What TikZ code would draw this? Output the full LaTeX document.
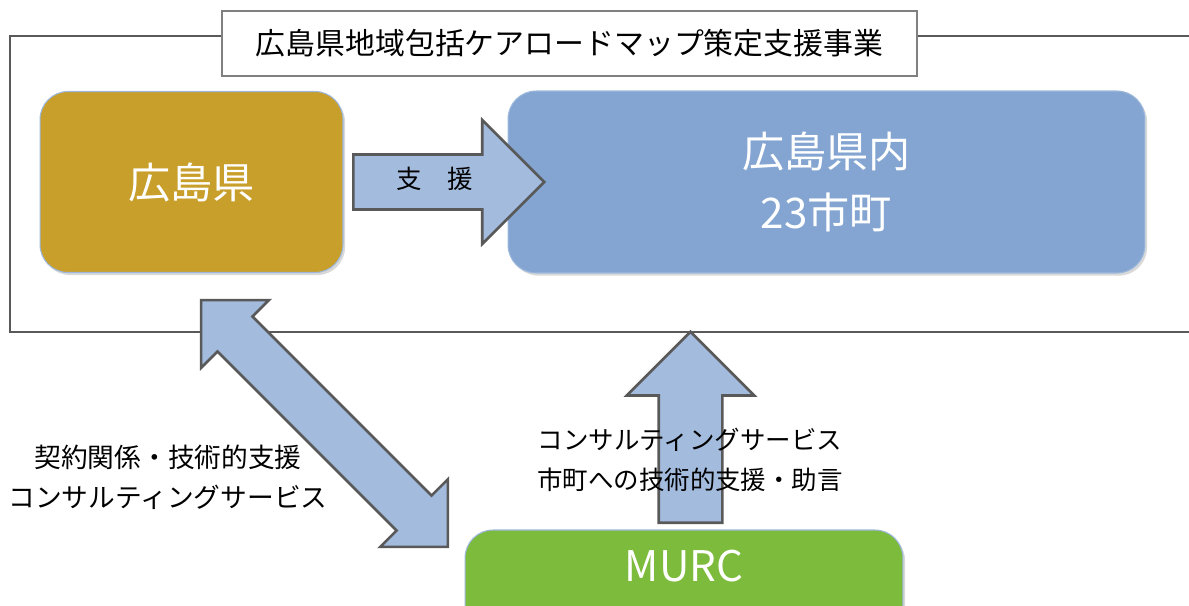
\documentclass[tikz,border=0pt]{standalone}
\usepackage{fontspec}
\setmainfont{Noto Sans CJK JP}
\usetikzlibrary{shapes.arrows,shadows,positioning}

\definecolor{prefgold}{HTML}{C89F2A}
\definecolor{cityblue}{HTML}{84A5D1}
\definecolor{murcgreen}{HTML}{7CBB3C}
\definecolor{arrowblue}{HTML}{A3BBDD}
\definecolor{edgeblue}{HTML}{9DB8DC}
\definecolor{framegray}{HTML}{595959}

\begin{document}
\begin{tikzpicture}[x=0.02cm, y=-0.02cm]

% --- スタイル ---
\tikzset{
    box/.style={rounded corners=0.56cm, draw=edgeblue, line width=0.6pt, inner sep=0pt,
        drop shadow={shadow xshift=1.2pt, shadow yshift=-1.5pt, opacity=0.3}},
    boxtext/.style={text=white, font=\fontsize{24}{35}\selectfont, align=center},
    smalltext/.style={font=\fontsize{14.5}{22.8}\selectfont, align=center},
    frame/.style={draw=framegray, line width=1.1pt},
    blockarrow/.style={single arrow, fill=arrowblue, draw=framegray, line width=1.5pt,
        inner xsep=0pt, inner ysep=0.58cm, single arrow head extend=0.66cm,
        minimum width=2.48cm, minimum height=3.82cm},
    botharrow/.style={double arrow, fill=arrowblue, draw=framegray, line width=1.5pt,
        inner xsep=0pt, inner ysep=0.47cm, double arrow head extend=0.46cm,
        minimum width=1.86cm, minimum height=6.98cm}
}

    \useasboundingbox (0,0) rectangle (1189,605);
    \clip (0,0) rectangle (1189,605);

    % 事業の枠
    \draw[frame] (1189,36) -- (10,36) -- (10,332) -- (1189,332);
    \node[draw=gray, line width=0.8pt, fill=white, minimum width=13.9cm, minimum height=1.3cm,
        font=\fontsize{17}{20}\selectfont] (title) at (569.5,43.5) {広島県地域包括ケアロードマップ策定支援事業};

    % 広島県と市町
    \node[box, fill=prefgold, minimum width=6.06cm, minimum height=3.62cm, boxtext] (pref) at (191.5,182) {広島県};
    \node[box, fill=cityblue, minimum width=12.74cm, minimum height=3.64cm, boxtext] (cities) at (826.5,182) {広島県内\\23市町};

    % MURC
    \node[box, fill=murcgreen, minimum width=8.76cm, minimum height=2.2cm] (murc) at (684,585) {};
    \node[boxtext] (murclabel) at (684,566) {MURC};

    % 支援の矢印
    \node[blockarrow, anchor=tail, inner ysep=0.325cm, text height=0.88em, text depth=0.12em,
        font=\fontsize{14.5}{17}\selectfont] (support) at (352,182) {支　援};

    % MURCから市町へ
    \node[blockarrow, rotate=90, anchor=tail, inner ysep=0.61cm, minimum width=2.5cm,
        single arrow head extend=0.64cm] (consult) at (690.5,524) {};
    \node[smalltext] (consulttext) at (690,460) {コンサルティングサービス\\市町への技術的支援・助言};

    % 広島県とMURC
    \node[botharrow, rotate=-45] (contract) at (324.5,423.5) {};
    \node[smalltext, font=\fontsize{15.2}{22.8}\selectfont] (contracttext) at (168,477) {契約関係・技術的支援\\コンサルティングサービス};

\end{tikzpicture}
\end{document}
